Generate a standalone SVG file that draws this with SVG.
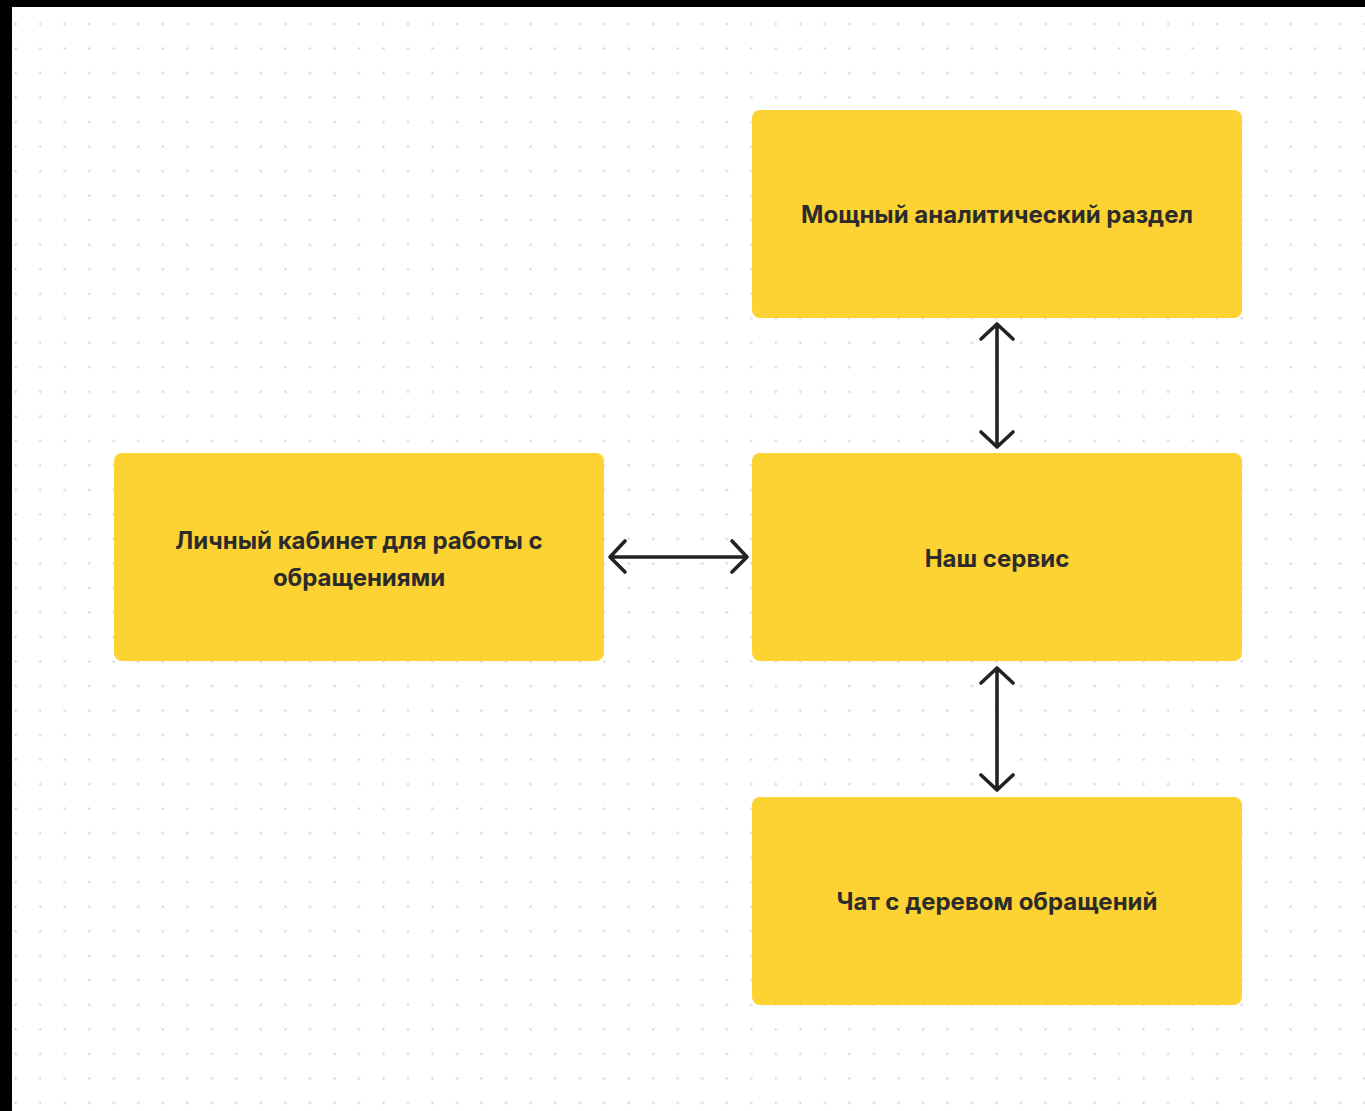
<svg xmlns="http://www.w3.org/2000/svg" width="1365" height="1111" viewBox="0 0 1365 1111">
<style>
.box{fill:#FDD233}
.lbl{font-family:Inter,"Liberation Sans",sans-serif;font-weight:700;font-size:24px;fill:#2b2b2b;text-anchor:middle}
.conn{fill:none;stroke:#222;stroke-width:3.6;stroke-linecap:round;stroke-linejoin:round}
</style>
<defs>
<pattern id="dots" patternUnits="userSpaceOnUse" x="3.44" y="11.74" width="24.52" height="24.52">
<circle cx="12.26" cy="12.26" r="1.2" fill="#d6d6d6"/>
</pattern>
</defs>
<rect x="0" y="0" width="1365" height="1111" fill="#000"/>
<rect x="12" y="7" width="1353" height="1104" fill="#fff"/>
<rect x="12" y="7" width="1353" height="1104" fill="url(#dots)"/>
<g id="node-analytics">
<rect class="box" x="752" y="110" width="490" height="208" rx="8"/>
<text class="lbl" x="997" y="223">Мощный аналитический раздел</text>
</g>
<g id="node-cabinet">
<rect class="box" x="114" y="453" width="490" height="208" rx="8"/>
<text class="lbl" x="359" y="549">Личный кабинет для работы с</text>
<text class="lbl" x="359" y="586">обращениями</text>
</g>
<g id="node-service">
<rect class="box" x="752" y="453" width="490" height="208" rx="8"/>
<text class="lbl" x="997" y="567">Наш сервис</text>
</g>
<g id="node-chat">
<rect class="box" x="752" y="797" width="490" height="208" rx="8"/>
<text class="lbl" x="997" y="910">Чат с деревом обращений</text>
</g>
<g id="connectors">
<path class="conn" d="M997 324V447M981 339L997 324L1013 339M981 432L997 447L1013 432"/>
<path class="conn" d="M997 668V790M981 683L997 668L1013 683M981 775L997 790L1013 775"/>
<path class="conn" d="M610 557H747M625 541L610 557L625 572M732 541L747 557L732 572"/>
</g>
</svg>
